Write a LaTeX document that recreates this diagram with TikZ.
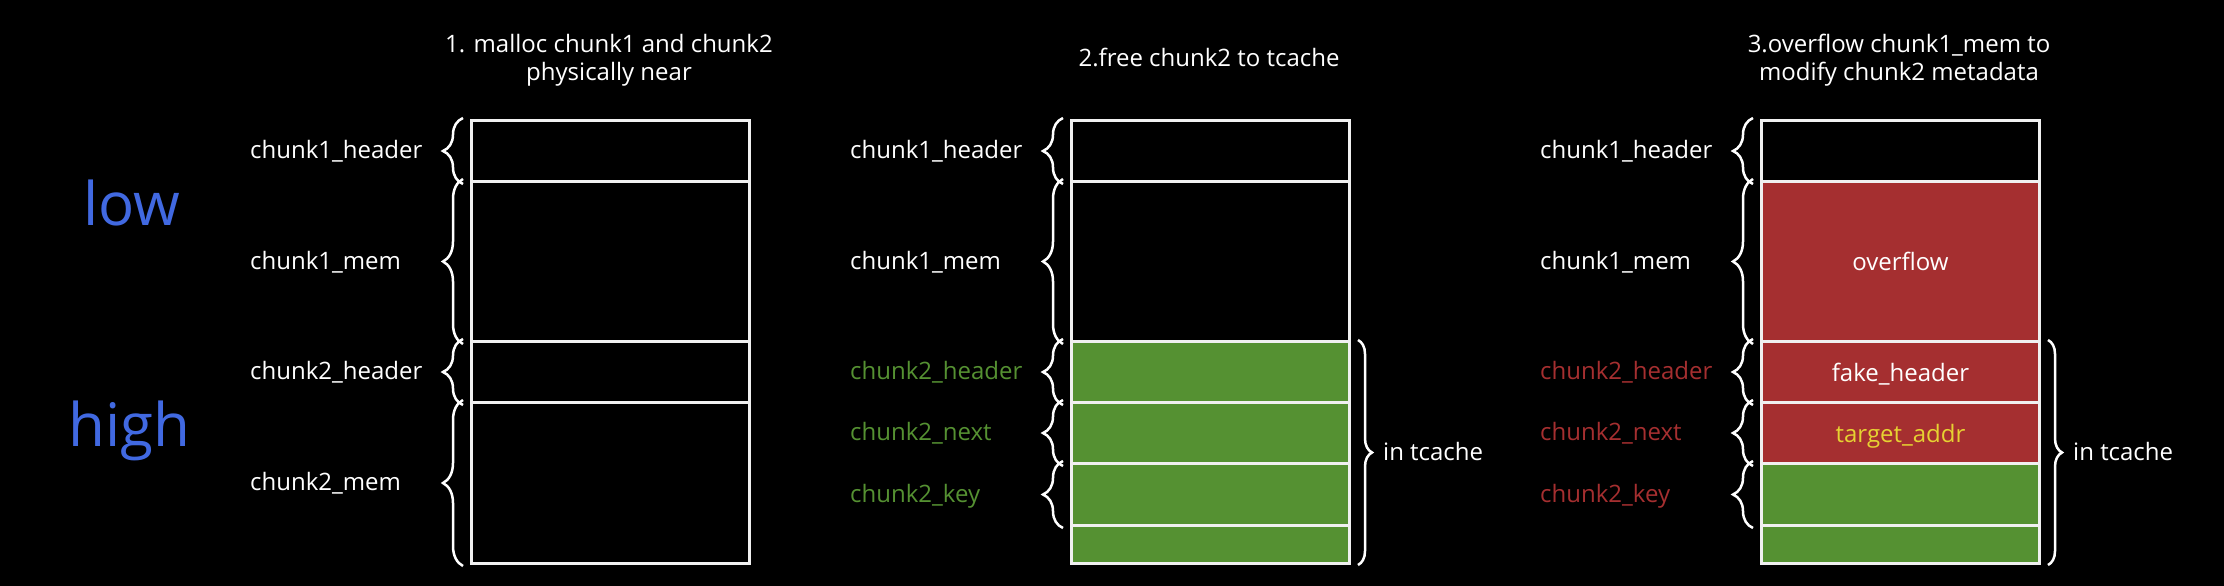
\documentclass[tikz,border=0pt]{standalone}
\usepackage{fontspec}
\setmainfont{Open Sans}
\usetikzlibrary{decorations.pathreplacing}
\definecolor{lowblue}{RGB}{65,105,225}
\definecolor{cgreen}{RGB}{85,145,50}
\definecolor{cred}{RGB}{165,47,48}
\definecolor{cyellow}{RGB}{230,210,50}
\definecolor{cwhite}{RGB}{240,240,240}
\tikzset{
  seg/.style={draw=cwhite, line width=3pt, rectangle, inner sep=0pt, minimum width=278pt, anchor=north west},
  lbl/.style={anchor=base west, inner sep=0pt, font=\fontsize{24}{28}\selectfont},
  inlbl/.style={anchor=base, inner sep=0pt, font=\fontsize{24}{28}\selectfont},
  ttl/.style={align=center, inner sep=0pt, text=white, font=\fontsize{24}{28}\selectfont},
  lbrace/.style={draw=white, line width=2.5pt, decorate, decoration={brace, amplitude=20pt}},
  rbrace/.style={draw=white, line width=2.5pt, decorate, decoration={brace, amplitude=14pt}},
  bigword/.style={anchor=base west, inner sep=0pt, text=lowblue, font=\fontsize{60}{66}\selectfont},
}
\begin{document}
\begin{tikzpicture}[x=1pt,y=-1pt]
\fill[black] (0,0) rectangle (2224,586);
\useasboundingbox (0,0) rectangle (2224,586);

\node[bigword] (low) at (83,225) {low};
\node[bigword] (high) at (68,446) {high};

% ---------- panel 1 ----------
\node[ttl] (t1) at (609,60) {1. malloc chunk1 and chunk2\\physically near};
\node[seg, minimum height=61pt]  (a1) at (470,119) {};
\node[seg, minimum height=160pt] (a2) at (470,180) {};
\node[seg, minimum height=61pt]  (a3) at (470,340) {};
\node[seg, minimum height=161pt] (a4) at (470,401) {};
\node[lbl, text=white] (la1) at (250,158.5) {chunk1\_header};
\node[lbl, text=white] (la2) at (250,269) {chunk1\_mem};
\node[lbl, text=white] (la3) at (250,379.5) {chunk2\_header};
\node[lbl, text=white] (la4) at (250,490.5) {chunk2\_mem};
\foreach \s in {a1,a2,a3,a4}
  \draw[lbrace] ([xshift=-7pt,yshift=-1pt]\s.south west) -- ([xshift=-7pt,yshift=1pt]\s.north west);

% ---------- panel 2 ----------
\node[ttl] (t2) at (1209,57) {2.free chunk2 to tcache};
\node[seg, minimum height=61pt]  (b1) at (1070,119) {};
\node[seg, minimum height=160pt] (b2) at (1070,180) {};
\node[seg, fill=cgreen, minimum height=61pt] (b3) at (1070,340) {};
\node[seg, fill=cgreen, minimum height=61pt] (b4) at (1070,401) {};
\node[seg, fill=cgreen, minimum height=62pt] (b5) at (1070,462) {};
\node[seg, fill=cgreen, minimum height=38pt] (b6) at (1070,524) {};
\node[lbl, text=white]  (lb1) at (850,158.5) {chunk1\_header};
\node[lbl, text=white]  (lb2) at (850,269) {chunk1\_mem};
\node[lbl, text=cgreen] (lb3) at (850,379.5) {chunk2\_header};
\node[lbl, text=cgreen] (lb4) at (850,440.5) {chunk2\_next};
\node[lbl, text=cgreen] (lb5) at (850,502) {chunk2\_key};
\foreach \s in {b1,b2,b3,b4,b5}
  \draw[lbrace] ([xshift=-7pt,yshift=-1pt]\s.south west) -- ([xshift=-7pt,yshift=1pt]\s.north west);
\draw[rbrace] ([xshift=7pt]b3.north east) -- ([xshift=7pt]b6.south east);
\node[lbl, text=white] (tc2) at (1383,460) {in tcache};

% ---------- panel 3 ----------
\node[ttl] (t3) at (1899,60) {3.overflow chunk1\_mem to\\modify chunk2 metadata};
\node[seg, minimum height=61pt]  (c1) at (1760,119) {};
\node[seg, fill=cred, minimum height=160pt] (c2) at (1760,180) {};
\node[seg, fill=cred, minimum height=61pt] (c3) at (1760,340) {};
\node[seg, fill=cred, minimum height=61pt] (c4) at (1760,401) {};
\node[seg, fill=cgreen, minimum height=62pt] (c5) at (1760,462) {};
\node[seg, fill=cgreen, minimum height=38pt] (c6) at (1760,524) {};
\node[inlbl, text=white]   (o1) at ([yshift=-9pt]c2.center) {overflow};
\node[inlbl, text=white]   (o2) at ([yshift=-9pt]c3.center) {fake\_header};
\node[inlbl, text=cyellow] (o3) at ([yshift=-9pt]c4.center) {target\_addr};
\node[lbl, text=white] (lc1) at (1540,158.5) {chunk1\_header};
\node[lbl, text=white] (lc2) at (1540,269) {chunk1\_mem};
\node[lbl, text=cred]  (lc3) at (1540,379.5) {chunk2\_header};
\node[lbl, text=cred]  (lc4) at (1540,440.5) {chunk2\_next};
\node[lbl, text=cred]  (lc5) at (1540,502) {chunk2\_key};
\foreach \s in {c1,c2,c3,c4,c5}
  \draw[lbrace] ([xshift=-7pt,yshift=-1pt]\s.south west) -- ([xshift=-7pt,yshift=1pt]\s.north west);
\draw[rbrace] ([xshift=7pt]c3.north east) -- ([xshift=7pt]c6.south east);
\node[lbl, text=white] (tc3) at (2073,460) {in tcache};
\end{tikzpicture}
\end{document}
